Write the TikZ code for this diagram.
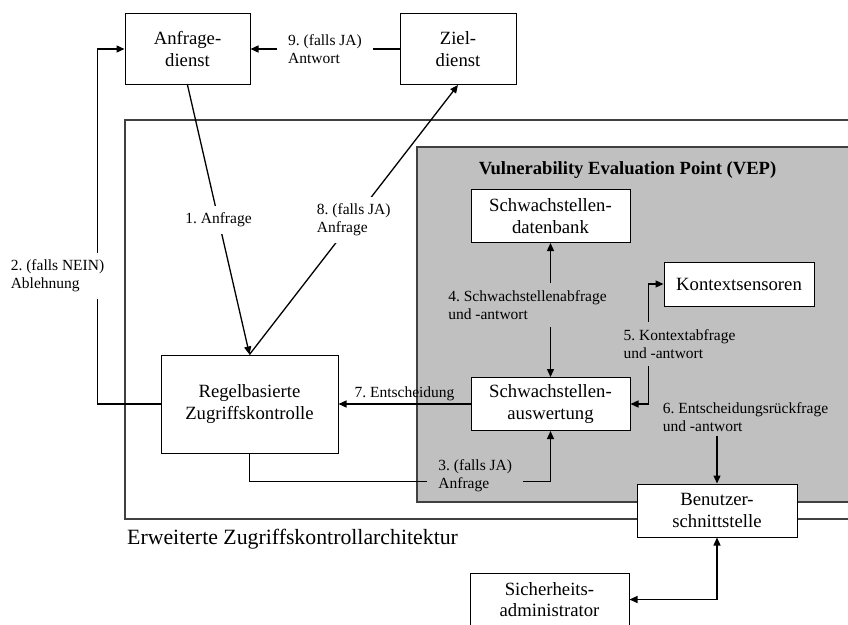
\documentclass[tikz,border=0pt]{standalone}
\usepackage{fontspec}
\setmainfont{Liberation Serif}
\usetikzlibrary{positioning,arrows.meta}
\definecolor{vepgray}{RGB}{192,192,192}
\definecolor{framegray}{RGB}{64,64,64}
\frenchspacing

\begin{document}
\begin{tikzpicture}[x=1pt, y=-1pt,
	>={Triangle[length=8pt,width=7pt]},
	box/.style={draw, fill=white, line width=1pt, align=center, inner sep=0pt,
		font=\fontsize{18.7}{21.5}\selectfont},
	lbl/.style={align=left, inner xsep=6pt, inner ysep=7pt,
		font=\fontsize{15.5}{18}\selectfont},
	conn/.style={line width=1.3pt},
	frame/.style={draw=framegray, line width=1.3pt},
]
	\clip (0,0) rectangle (848,624);

	\draw[frame] (125,120) rectangle (880,519);
	\draw[frame, fill=vepgray] (417,147) rectangle (880,502);
	\node[font=\bfseries\fontsize{18.6}{21}\selectfont] (vep) at (627.5,170)
		{Vulnerability Evaluation Point (VEP)};
	\node[anchor=west, inner sep=0pt, font=\fontsize{21.8}{24}\selectfont] (arch) at (127,539)
		{Erweiterte Zugriffskontrollarchitektur};

	\node[box, minimum width=125pt, minimum height=71pt] (anfr) at (187.5,49) {Anfrage-\\dienst};
	\node[box, minimum width=116pt, minimum height=71pt, right=149pt of anfr] (ziel) {Ziel-\\dienst};
	\node[box, minimum width=177pt, minimum height=98pt] (regel) at (249.5,404) {Regelbasierte\\Zugriffskontrolle};
	\node[box, minimum width=159pt, minimum height=53pt, right=132pt of regel] (ausw) {Schwachstellen-\\auswertung};
	\node[box, minimum width=159pt, minimum height=53pt, above=134pt of ausw] (dbank) {Schwachstellen-\\datenbank};
	\node[box, minimum width=150pt, minimum height=44pt] (kontext) at (739,284) {Kontextsensoren};
	\node[box, minimum width=160pt, minimum height=53pt] (benutzer) at (717,510.5) {Benutzer-\\schnittstelle};
	\node[box, minimum width=159pt, minimum height=53pt] (admin) at (549.5,599.5) {Sicherheits-\\administrator};

	\draw[conn, ->] (anfr.south) -- node[lbl, fill=white] {1. Anfrage} (regel.north);
	\draw[conn, ->] (regel.west) -- ++(-63,0) |-
		node[lbl, fill=white, pos=0.18, xshift=-40pt] {2. (falls NEIN)\\Ablehnung} (anfr.west);
	\draw[conn, ->] (regel.south) -- ++(0,28) -|
		node[lbl, fill=vepgray, pos=0.375, yshift=6pt, inner xsep=11pt] {3. (falls JA)\\Anfrage} (ausw.south);
	\draw[conn, <->] (dbank.south) --
		node[lbl, fill=vepgray, xshift=-23pt, yshift=5pt] {4. Schwachstellenabfrage\\und -antwort} (ausw.north);
	\draw[conn, <->] (ausw.east) -- ++(18,0) |-
		node[lbl, fill=vepgray, pos=0.25, xshift=31pt] {5. Kontextabfrage\\und -antwort} (kontext.west);
	\node[lbl, inner ysep=4pt] (rueck) at (745.5,417) {6. Entscheidungsr\"uckfrage\\und -antwort};
	\draw[conn, ->] (benutzer.north |- rueck.south) -- (benutzer.north);
	\draw[conn, ->] (ausw.west) -- node[lbl, above, inner sep=3pt] {7. Entscheidung} (regel.east);
	\draw[conn, ->] (regel.north) -- node[lbl, fill=white] {8. (falls JA)\\Anfrage} (ziel.south);
	\draw[conn, ->] (ziel.west) -- node[lbl, fill=white, inner xsep=11pt] {9. (falls JA)\\Antwort} (anfr.east);
	\draw[conn, <->] (benutzer.south) |- (admin.east);
\end{tikzpicture}
\end{document}
